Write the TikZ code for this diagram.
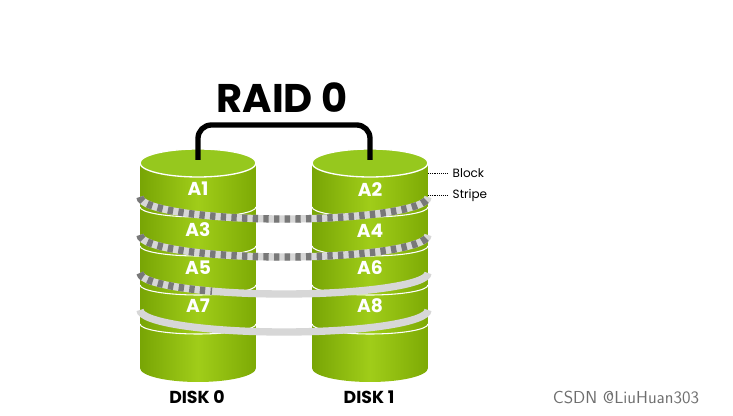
\documentclass[tikz,border=0pt]{standalone}
\usepackage{fontspec}
\setmainfont{Poppins}
\begin{document}
\begin{tikzpicture}[x=0.75pt,y=-0.75pt,
  cyl/.style={left color={rgb,255:red,120;green,165;blue,5},right color={rgb,255:red,125;green,170;blue,5},middle color={rgb,255:red,160;green,205;blue,25}},
  topc/.style={fill={rgb,255:red,150;green,200;blue,30},draw=white,line width=1pt},
  div/.style={draw=white,line width=0.8pt},
  blk/.style={text=white,font=\bfseries\fontsize{14}{14}\selectfont},
  band/.style={line width=5.5pt,draw={rgb,255:red,215;green,215;blue,215}},
  stripd/.style={line width=5.5pt,draw={rgb,255:red,120;green,120;blue,120},dash pattern=on 4pt off 4pt},
  lab/.style={font=\bfseries\fontsize{13}{13}\selectfont},
  small/.style={font=\fontsize{9}{9}\selectfont}]
\useasboundingbox (0,0) rectangle (733,416);
\fill[white] (0,0) rectangle (733,416);
% cylinders
\foreach \cx in {198,370}{
  \path[cyl] (\cx-58,163) -- (\cx-58,368) arc[start angle=180,end angle=0,x radius=58,y radius=14] -- (\cx+58,163) -- cycle;
  \path[topc] (\cx,163) ellipse[x radius=58,y radius=14];
  \foreach \yy in {207,246,285,324}{
    \draw[div] (\cx-58,\yy) arc[start angle=180,end angle=0,x radius=58,y radius=10];
  }
}
% stripes
\draw[band] (140,197) arc[start angle=180,end angle=0,x radius=144,y radius=22];
\draw[stripd] (140,197) arc[start angle=180,end angle=0,x radius=144,y radius=22];
\draw[band] (140,235) arc[start angle=180,end angle=0,x radius=144,y radius=22];
\draw[stripd] (140,235) arc[start angle=180,end angle=0,x radius=144,y radius=22];
\draw[band] (140,273) arc[start angle=180,end angle=0,x radius=144,y radius=21];
\draw[stripd] (140,273) arc[start angle=180,end angle=120,x radius=144,y radius=21];
\draw[band] (140,310) arc[start angle=180,end angle=0,x radius=144,y radius=22];
% block labels
\node[blk] (a1) at (198,189) {A1};
\node[blk] (a2) at (370,190) {A2};
\node[blk] (a3) at (198,230) {A3};
\node[blk] (a4) at (370,231) {A4};
\node[blk] (a5) at (198,268) {A5};
\node[blk] (a6) at (370,268) {A6};
\node[blk] (a7) at (198,306) {A7};
\node[blk] (a8) at (370,306) {A8};
% bracket
\coordinate (bl) at (198,160);
\coordinate (br) at (370,160);
\draw[line width=4pt,rounded corners=10pt] (bl) -- (198,125) -- (370,125) -- (br);
\node[font=\bfseries\fontsize{30}{30}\selectfont] (raid) at (282,98) {RAID 0};
\node[lab] (d0) at (197,397) {DISK 0};
\node[lab] (d1) at (369,397) {DISK 1};
\node[small,anchor=west] (block) at (448,173) {Block};
\node[small,anchor=west] (stripe) at (448,195) {Stripe};
\coordinate (bk) at (428,173);
\coordinate (st) at (428,195);
\draw[densely dotted] (bk) -- (block.west);
\draw[densely dotted] (st) -- (stripe.west);
\node[font=\sffamily\fontsize{13}{13}\selectfont,text={rgb,255:red,110;green,110;blue,110}] (wm) at (626,397) {CSDN @LiuHuan303};
\end{tikzpicture}
\end{document}
